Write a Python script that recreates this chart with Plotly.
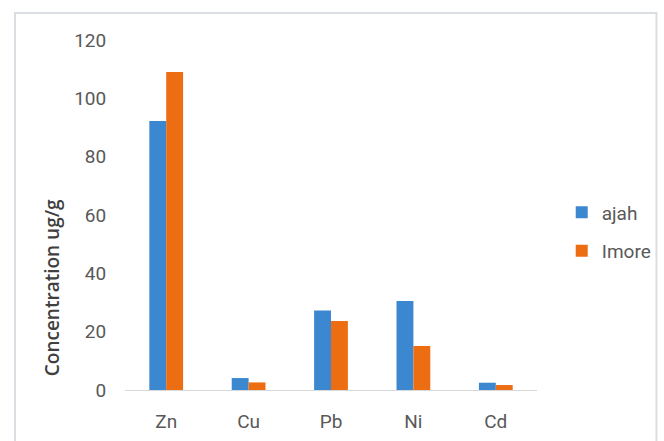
import plotly.graph_objects as go

categories = ["Zn", "Cu", "Pb", "Ni", "Cd"]
ajah = [92.2, 4.1, 27.3, 30.5, 2.5]
imore = [109.0, 2.6, 23.7, 15.1, 1.7]
y_ticks = [0, 20, 40, 60, 80, 100, 120]

FONT = "Roboto, Liberation Sans, sans-serif"
GRAY = "#595959"

fig = go.Figure()
fig.add_trace(go.Bar(x=categories, y=ajah, name="ajah",
                     marker=dict(color="#3C88D0", line=dict(width=0)),
                     legendgroup="a"))
fig.add_trace(go.Bar(x=categories, y=imore, name="Imore",
                     marker=dict(color="#EC6D12", line=dict(width=0)),
                     legendgroup="b"))

fig.update_layout(
    width=664, height=441,
    margin=dict(l=125, r=127, t=40, b=51, autoexpand=False),
    paper_bgcolor="white", plot_bgcolor="white",
    barmode="group", bargap=0.59, bargroupgap=0,
    font=dict(family=FONT, size=19, color=GRAY),
    showlegend=True,
    legend=dict(x=1.06, y=0.452, xanchor="left", yanchor="middle",
                font=dict(family=FONT, size=19, color=GRAY),
                tracegroupgap=11, itemwidth=30, bgcolor="rgba(0,0,0,0)"),
    xaxis=dict(showgrid=False, showline=True, linecolor="#D9D9D9", linewidth=1,
               ticks="outside", ticklen=14, tickcolor="rgba(0,0,0,0)",
               tickfont=dict(family=FONT, size=19, color=GRAY), zeroline=False),
    yaxis=dict(range=[0, 120], tickvals=y_ticks, showgrid=False, showline=False,
               zeroline=False, ticks="outside", ticklen=14, tickcolor="rgba(0,0,0,0)",
               tickfont=dict(family=FONT, size=19, color=GRAY)),
    annotations=[dict(text="Concentration ug/g", textangle=-90,
                      xref="paper", yref="paper", x=-0.177, y=0.291,
                      xanchor="center", yanchor="middle", showarrow=False,
                      font=dict(family="Open Sans, sans-serif", size=19, color="#404040",
                                weight=600))],
    shapes=[dict(type="rect", xref="paper", yref="paper",
                 x0=-0.267, x1=1.29, y0=-0.2, y1=1.077,
                 line=dict(color="#DADDE2", width=2), fillcolor="rgba(0,0,0,0)",
                 layer="below")],
)

fig.write_html("out.html")
